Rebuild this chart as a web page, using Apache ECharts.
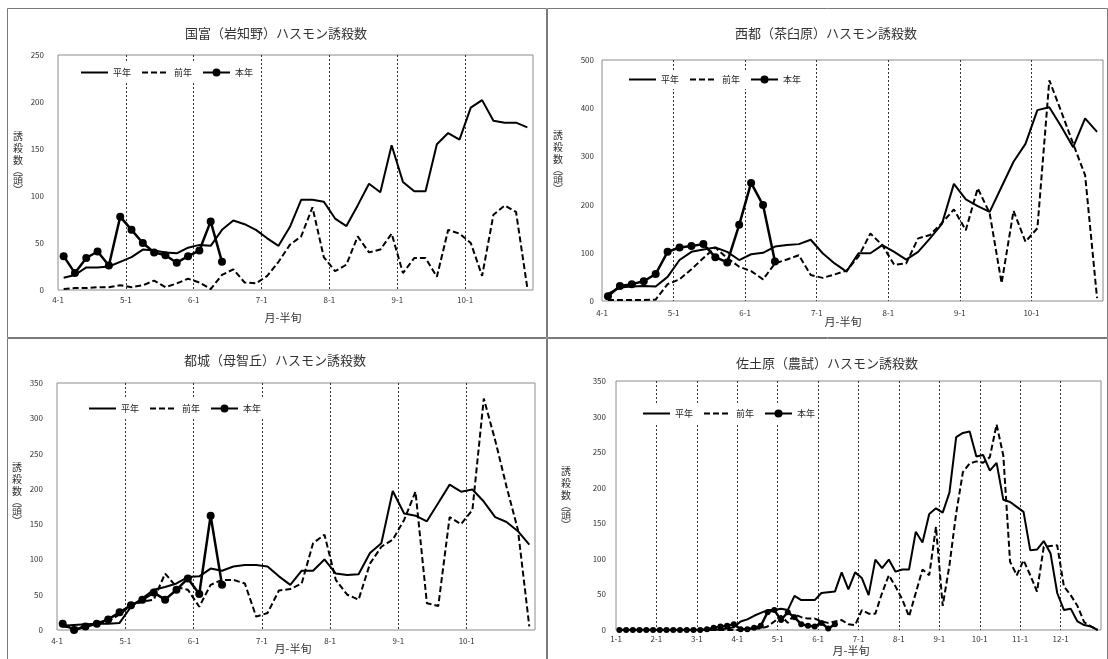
<!DOCTYPE html>
<html>
<head>
<meta charset="utf-8">
<script src="https://cdn.jsdelivr.net/npm/echarts@6/dist/echarts.min.js"></script>
<style>
  html, body { margin: 0; padding: 0; background: #fff; }
  #chart { width: 1108px; height: 659px; }
</style>
</head>
<body>
<div id="chart"></div>
<script>
// Pentad (半旬) trap counts of the common cutworm at four stations.

const FONT = '"Noto Sans CJK JP", "Noto Sans", sans-serif';

const seriesNames = ['平年', '前年', '本年'];
const xAxisTitle = '月-半旬';
const yAxisTitle = '{a|誘}\n{a|殺}\n{a|数}\n{b|︵}\n{a|頭}\n{b|︶}';

// month tick labels (one per month boundary)
const ticksAprOct = ['4-1', '5-1', '6-1', '7-1', '8-1', '9-1', '10-1'];
const ticksJanDec = ['1-1', '2-1', '3-1', '4-1', '5-1', '6-1', '7-1', '8-1', '9-1', '10-1', '11-1', '12-1'];

// pentad category names, e.g. 4-1 ... 10-6
function pentadCategories(firstMonth, lastMonth) {
  const out = [];
  for (let m = firstMonth; m <= lastMonth; m++) {
    for (let p = 1; p <= 6; p++) out.push(m + '-' + p);
  }
  return out;
}
const catsAprOct = pentadCategories(4, 10);
const catsJanDec = pentadCategories(1, 12);

// 国富（岩知野）
const kunitomiTitle = '国富（岩知野）ハスモン誘殺数';
const kunitomiHeinen = [13,16,24,24,25,30,35,43,42,40,39,45,48,47,64,74,70,64,55,47,67,96,96,94,76,68,90,113,104,154,115,105,105,155,167,160,194,202,180,178,178,173];
const kunitomiZennen = [1,2,2,3,3,5,3,5,10,3,7,12,8,1,16,22,8,7,15,30,48,57,88,35,20,27,57,40,43,60,18,34,34,14,64,60,50,15,80,90,83,2];
const kunitomiHonnen = [36,18,34,41,26,78,64,50,40,37,29,36,42,73,30];

// 西都（茶臼原）
const saitoTitle = '西都（茶臼原）ハスモン誘殺数';
const saitoHeinen = [15,28,30,31,30,50,85,102,107,111,102,85,97,100,113,116,118,127,99,78,61,99,99,116,102,86,102,130,160,243,211,197,185,237,289,326,396,402,362,319,379,351];
const saitoZennen = [2,2,2,2,3,35,45,66,89,111,89,71,62,45,78,86,95,54,48,55,63,92,140,116,75,78,130,137,162,190,147,234,182,37,187,123,151,458,393,326,261,6];
const saitoHonnen = [10,31,35,41,56,102,111,114,118,91,80,158,245,199,82];

// 都城（母智丘）
const miyakonojoTitle = '都城（母智丘）ハスモン誘殺数';
const miyakonojoHeinen = [6,7,8,9,9,10,33,45,57,61,66,75,76,87,84,90,92,92,90,76,64,84,84,100,80,78,79,109,123,197,165,162,154,180,206,196,199,182,160,153,140,121];
const miyakonojoZennen = [5,3,5,8,12,22,35,40,43,80,61,57,33,64,71,71,66,19,24,56,58,66,123,135,71,50,43,94,118,128,156,196,38,34,160,150,170,328,269,203,142,5];
const miyakonojoHonnen = [9,0,5,9,15,25,35,43,53,43,57,73,51,162,64];

// 佐土原（農試）
const sadowaraTitle = '佐土原（農試）ハスモン誘殺数';
const sadowaraHeinen = [0,0,0,0,0,0,0,0,0,0,0,0,0,0,0,1,2,4,12,15,20,24,28,28,30,28,48,42,42,42,52,53,54,81,57,81,73,49,99,87,99,82,85,85,138,123,163,171,165,193,271,277,279,244,246,224,235,183,180,173,166,112,113,125,108,52,28,30,12,7,5,0];
const sadowaraZennen = [0,0,0,0,0,0,0,0,0,0,0,0,0,0,0,0,0,0,0,1,2,2,5,12,20,10,22,18,16,16,12,10,12,14,8,7,28,23,23,52,77,61,43,19,52,85,77,145,34,91,164,222,234,237,235,243,289,245,96,77,98,77,54,117,118,119,61,49,34,11,5,0];
const sadowaraHonnen = [0,0,0,0,0,0,0,0,0,0,0,0,0,1,3,5,6,8,1,1,3,6,25,28,14,25,18,8,6,5,10,2,8];

// panel layout (page pixels)
const panels = [
  { title: kunitomiTitle, cats: catsAprOct, ticks: ticksAprOct,
    heinen: kunitomiHeinen, zennen: kunitomiZennen, honnen: kunitomiHonnen,
    yMax: 250, yStep: 50,
    frame: [7, 8, 539, 329], grid: { left: 58, top: 55, width: 475, height: 235 },
    titleAt: [276, 33], yNameAt: [18, 162], xNameAt: [283, 318], legendAt: [77, 63],
    yLabelMargin: 14, xLabelMargin: 6, symbolSize: 8 },
  { title: saitoTitle, cats: catsAprOct, ticks: ticksAprOct,
    heinen: saitoHeinen, zennen: saitoZennen, honnen: saitoHonnen,
    yMax: 500, yStep: 100,
    frame: [547, 8, 560, 329], grid: { left: 602, top: 60, width: 501, height: 241 },
    titleAt: [826, 33], yNameAt: [558, 161], xNameAt: [843, 322], legendAt: [625, 70],
    yLabelMargin: 8, xLabelMargin: 8, symbolSize: 8 },
  { title: miyakonojoTitle, cats: catsAprOct, ticks: ticksAprOct,
    heinen: miyakonojoHeinen, zennen: miyakonojoZennen, honnen: miyakonojoHonnen,
    yMax: 350, yStep: 50,
    frame: [7, 338, 539, 330], grid: { left: 57, top: 383, width: 478, height: 247 },
    titleAt: [275, 360], yNameAt: [17, 493], xNameAt: [293, 649], legendAt: [85, 399],
    yLabelMargin: 14, xLabelMargin: 7, symbolSize: 8 },
  { title: sadowaraTitle, cats: catsJanDec, ticks: ticksJanDec,
    heinen: sadowaraHeinen, zennen: sadowaraZennen, honnen: sadowaraHonnen,
    yMax: 350, yStep: 50,
    frame: [547, 338, 560, 330], grid: { left: 616, top: 381, width: 485, height: 249 },
    titleAt: [827, 363], yNameAt: [566, 497], xNameAt: [851, 651], legendAt: [639, 404],
    yLabelMargin: 10, xLabelMargin: 5, symbolSize: 6 }
];

const grids = [], xAxes = [], yAxes = [], series = [], legends = [], graphics = [];
const noMarker = { color: 'rgba(0,0,0,0)', borderWidth: 0, opacity: 0 };

panels.forEach((p, k) => {
  grids.push({
    left: p.grid.left, top: p.grid.top, width: p.grid.width, height: p.grid.height,
    show: true, borderColor: '#8c8c8c', borderWidth: 1, backgroundColor: 'transparent'
  });

  // data axis: one band per pentad
  xAxes.push({ type: 'category', gridIndex: k, position: 'bottom', data: p.cats, boundaryGap: true, show: false });
  // month boundaries: labels and dotted separators
  xAxes.push({
    type: 'value', gridIndex: k, position: 'bottom', min: 0, max: p.cats.length, interval: 6,
    axisLine: { show: false }, axisTick: { show: false },
    axisLabel: {
      fontSize: 8, color: '#333', fontFamily: FONT, margin: p.xLabelMargin,
      formatter: v => p.ticks[v / 6] || ''
    },
    splitLine: {
      show: true, showMinLine: false, showMaxLine: false,
      lineStyle: { color: '#333', width: 1, type: [2, 2] }
    }
  });
  yAxes.push({
    type: 'value', gridIndex: k, min: 0, max: p.yMax, interval: p.yStep,
    axisLine: { show: false }, axisTick: { show: false }, splitLine: { show: false },
    axisLabel: { fontSize: 8, color: '#333', fontFamily: FONT, margin: p.yLabelMargin }
  });

  const common = {
    type: 'line', xAxisIndex: 2 * k, yAxisIndex: k, silent: true,
    emphasis: { disabled: true }, animation: false
  };
  series.push(Object.assign({}, common, {
    name: seriesNames[0], data: p.heinen, symbol: 'none', z: 3,
    itemStyle: { color: '#000' }, lineStyle: { color: '#000', width: 2 }
  }));
  series.push(Object.assign({}, common, {
    name: seriesNames[1], data: p.zennen, symbol: 'none', z: 3,
    itemStyle: { color: '#000' }, lineStyle: { color: '#000', width: 2, type: [6, 3] }
  }));
  series.push(Object.assign({}, common, {
    name: seriesNames[2], data: p.honnen, symbol: 'circle', symbolSize: p.symbolSize,
    showSymbol: true, showAllSymbol: true, z: 4,
    itemStyle: { color: '#000' }, lineStyle: { color: '#000', width: 2.5 }
  }));

  legends.push({
    left: p.legendAt[0], top: p.legendAt[1], orient: 'horizontal',
    itemWidth: 27, itemHeight: 10, itemGap: 10, padding: [5, 3],
    backgroundColor: '#fff', selectedMode: false,
    textStyle: { fontSize: 9, color: '#222', fontFamily: FONT },
    data: [
      { name: seriesNames[0], itemStyle: noMarker },
      { name: seriesNames[1], itemStyle: noMarker },
      { name: seriesNames[2] }
    ]
  });

  graphics.push({
    type: 'rect', silent: true, z: -1,
    shape: { x: p.frame[0] + 0.5, y: p.frame[1] + 0.5, width: p.frame[2], height: p.frame[3] },
    style: { fill: null, stroke: '#7a7a7a', lineWidth: 1 }
  });
  graphics.push({
    type: 'text', silent: true, x: p.titleAt[0], y: p.titleAt[1],
    style: { text: p.title, fill: '#333', font: '13px ' + FONT, align: 'center', verticalAlign: 'middle' }
  });
  graphics.push({
    type: 'text', silent: true, x: p.xNameAt[0], y: p.xNameAt[1],
    style: { text: xAxisTitle, fill: '#333', font: '11px ' + FONT, align: 'center', verticalAlign: 'middle' }
  });
  graphics.push({
    type: 'text', silent: true, x: p.yNameAt[0], y: p.yNameAt[1],
    style: {
      text: yAxisTitle, fill: '#333', align: 'center', verticalAlign: 'middle',
      rich: {
        a: { fontSize: 10, lineHeight: 12, fontFamily: FONT, fill: '#333' },
        b: { fontSize: 10, lineHeight: 8, fontFamily: FONT, fill: '#333' }
      }
    }
  });
});

const chart = echarts.init(document.getElementById('chart'), null, { renderer: 'canvas' });
chart.setOption({
  animation: false,
  backgroundColor: '#fff',
  textStyle: { fontFamily: FONT },
  grid: grids,
  xAxis: xAxes,
  yAxis: yAxes,
  legend: legends,
  series: series,
  graphic: { elements: graphics }
});
</script>
</body>
</html>
